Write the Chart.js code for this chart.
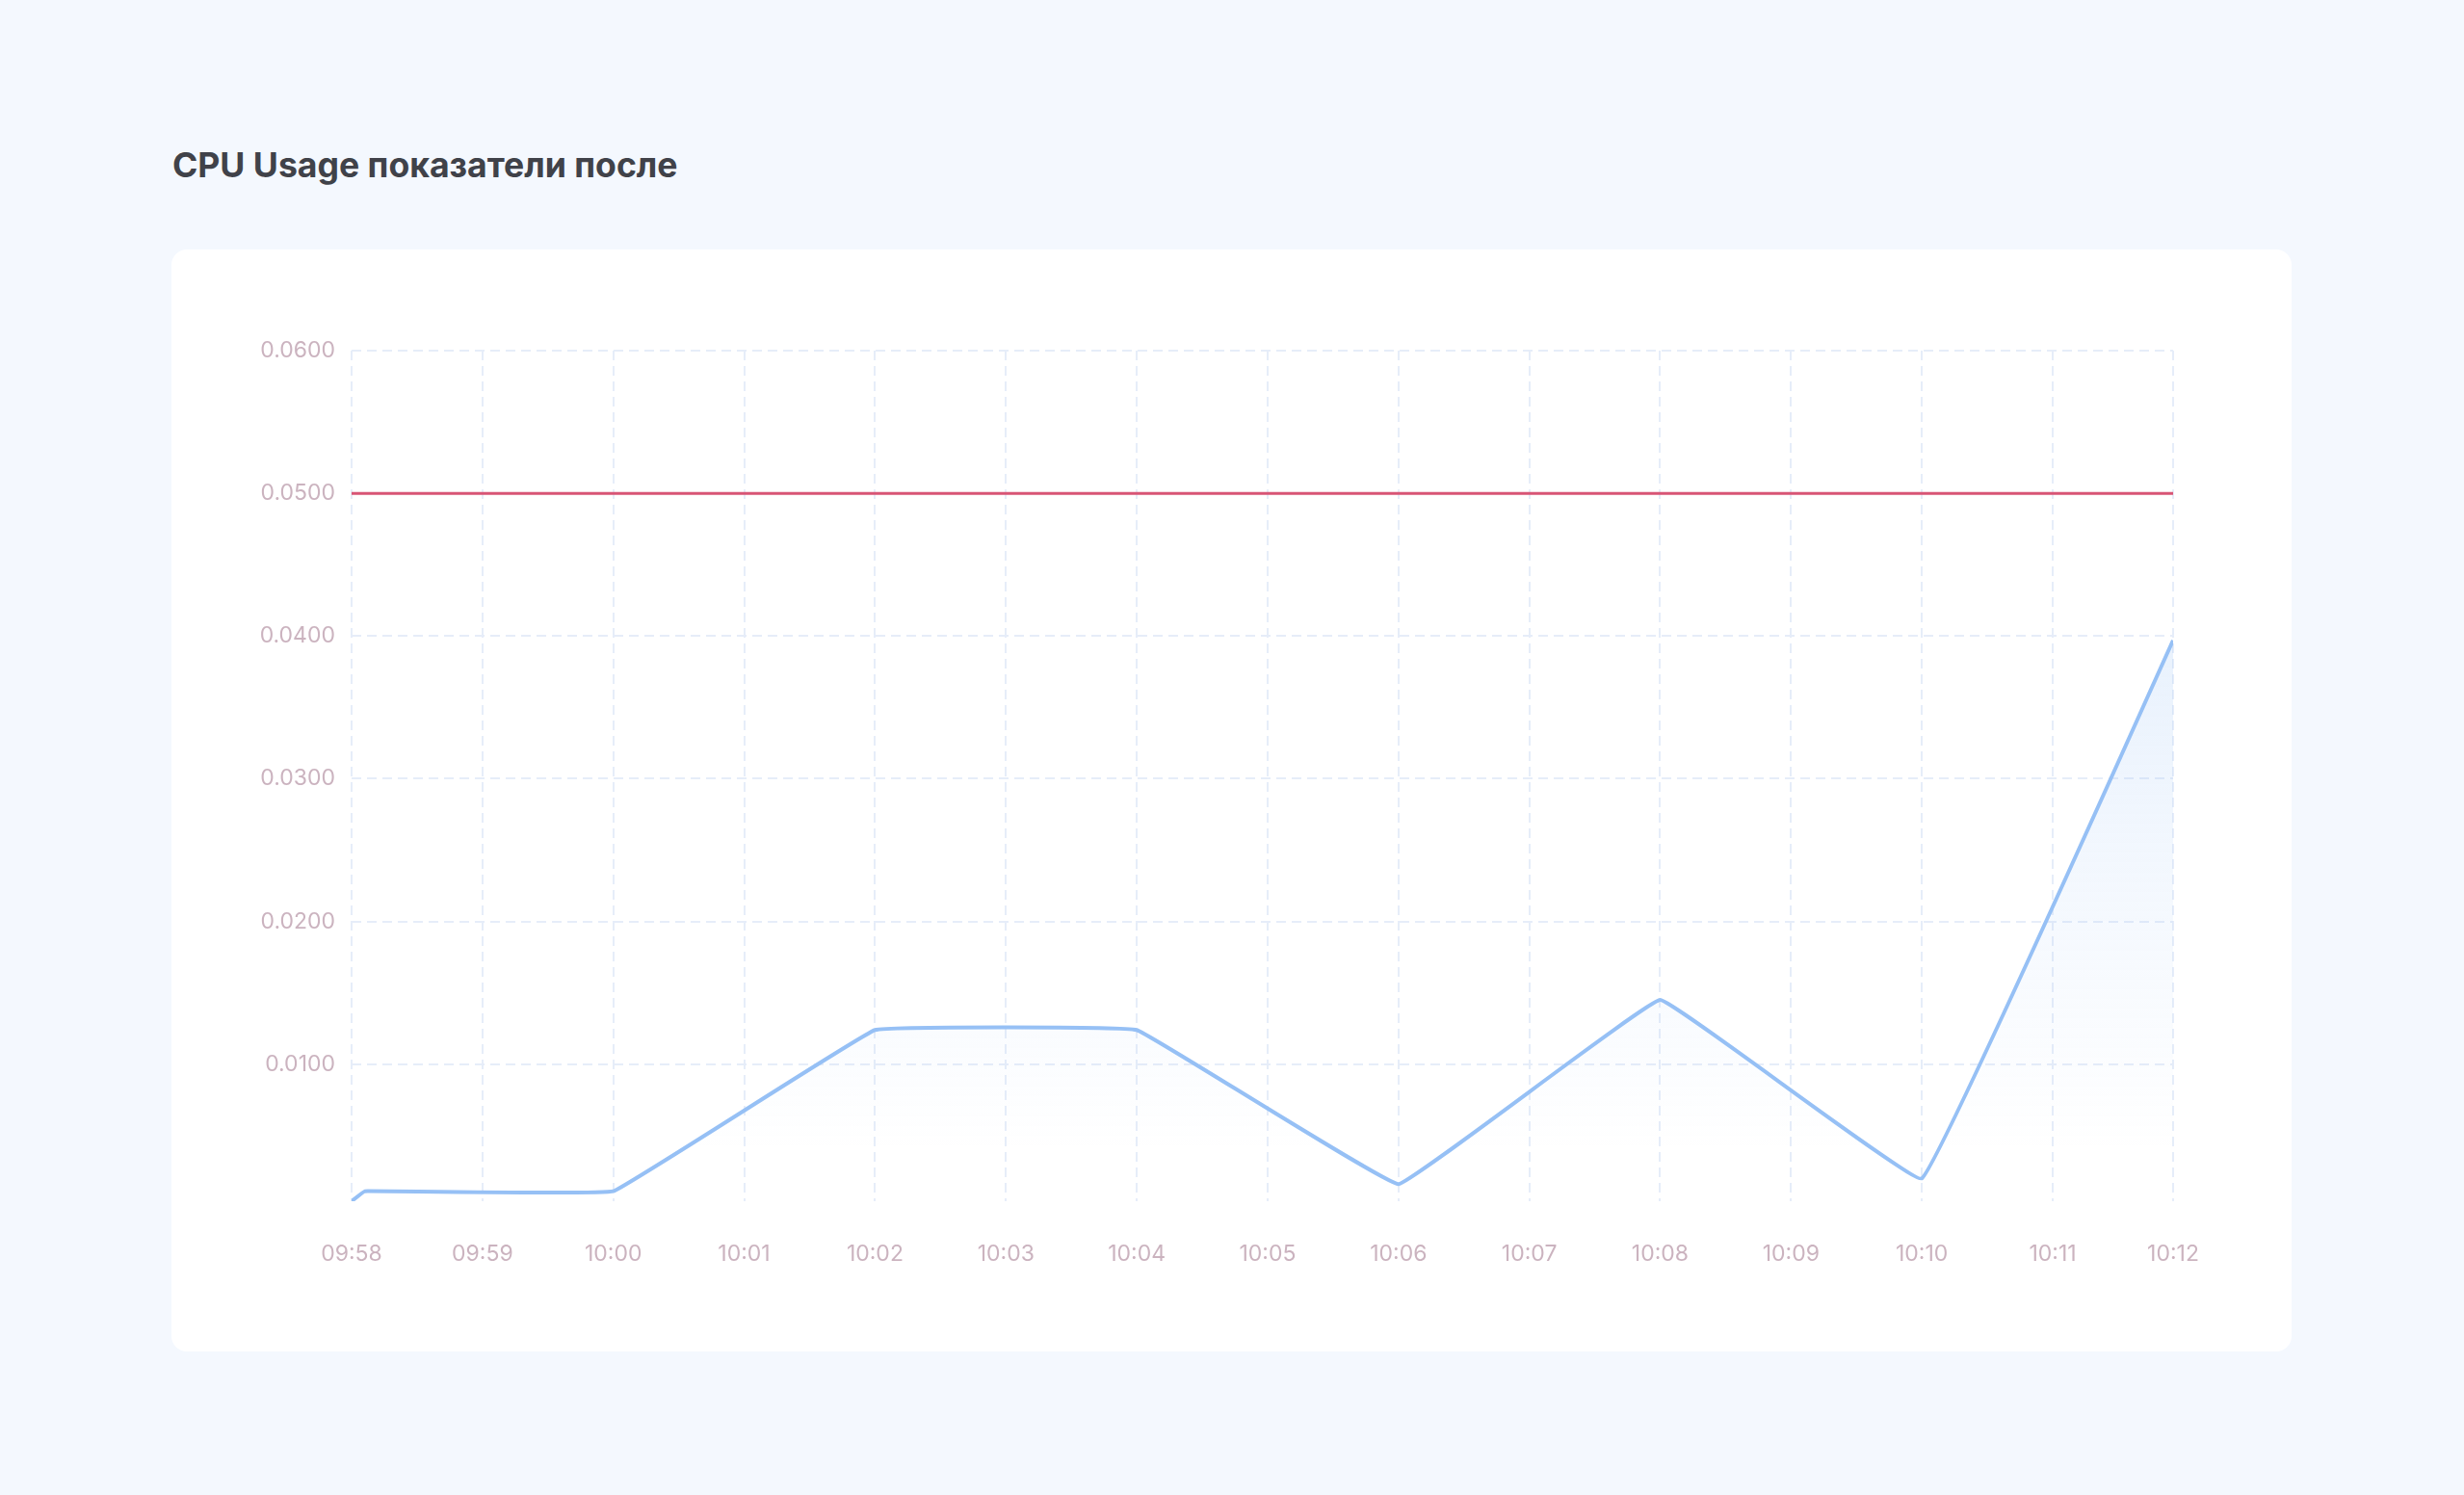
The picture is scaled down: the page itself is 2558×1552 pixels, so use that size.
<!DOCTYPE html>
<html>
<head>
<meta charset="utf-8">
<title>CPU Usage</title>
<script src="https://cdn.jsdelivr.net/npm/chart.js@4.4.1/dist/chart.umd.min.js"></script>
<style>
  html, body { margin: 0; padding: 0; }
  body {
    width: 2558px;
    height: 1552px;
    background: #f4f8fe;
    font-family: Inter, "Noto Sans", sans-serif;
    position: relative;
    overflow: hidden;
  }
  h1 {
    position: absolute;
    left: 179px;
    top: 150px;
    margin: 0;
    font-size: 35.6px;
    font-weight: 700;
    color: #404249;
    letter-spacing: 0;
  }
  .card {
    position: absolute;
    left: 178px;
    top: 259px;
    width: 2201px;
    height: 1144px;
    background: #ffffff;
    border-radius: 16px;
  }
  .card canvas { display: block; }
</style>
</head>
<body>
<h1>CPU Usage показатели после</h1>
<div class="card"><canvas id="cpuChart" width="2201" height="1144"></canvas></div>
<script>
// minutes after 09:58
const cpuMinutes = [0, 0.1, 2, 4, 6, 8, 10, 12, 13.92];
const cpuValues = [0.0004, 0.0011, 0.0011, 0.0124, 0.0124, 0.0016, 0.0145, 0.0020, 0.0397];

const limitMinutes = [0, 13.92];
const limitValues = [0.05, 0.05];

const xTickMinutes = [0, 1, 2, 3, 4, 5, 6, 7, 8, 9, 10, 11, 12, 13, 13.92];
const xTickLabels = ['09:58', '09:59', '10:00', '10:01', '10:02', '10:03', '10:04', '10:05',
    '10:06', '10:07', '10:08', '10:09', '10:10', '10:11', '10:12'];
const yTickValues = [0.01, 0.02, 0.03, 0.04, 0.05, 0.06];

function toPoints(xs, ys) {
    return xs.map((x, i) => ({ x: x, y: ys[i] }));
}

function fillGradient(context) {
    const chart = context.chart;
    const area = chart.chartArea;
    if (!area) return 'rgba(147,190,245,0.15)';
    const g = chart.ctx.createLinearGradient(0, area.top, 0, area.top + area.height * 0.94);
    g.addColorStop(0, 'rgba(147,190,245,0.32)');
    g.addColorStop(1, 'rgba(147,190,245,0)');
    return g;
}

const gridStyle = {
    color: '#e6edf9',
    lineWidth: 2,
    drawTicks: false
};
const tickFont = { family: 'Inter', size: 23 };
const tickColor = '#cbb3bf';

function initChart() {
    const ctx = document.getElementById('cpuChart');
    if (!ctx) return;

    new Chart(ctx, {
        type: 'line',
        data: {
            datasets: [{
                label: 'Limit',
                data: toPoints(limitMinutes, limitValues),
                borderColor: '#d85575',
                borderWidth: 3,
                pointRadius: 0,
                fill: false,
                tension: 0
            },
            {
                label: 'CPU Usage',
                data: toPoints(cpuMinutes, cpuValues),
                borderColor: '#96c0f5',
                borderWidth: 4,
                pointRadius: 0,
                tension: 0.05,
                fill: 'start',
                backgroundColor: fillGradient
            }]
        },
        options: {
            responsive: false,
            animation: false,
            layout: {
                padding: { left: 0, top: 105, right: 123, bottom: 0 }
            },
            plugins: {
                legend: { display: false },
                tooltip: { enabled: false }
            },
            scales: {
                x: {
                    type: 'linear',
                    min: cpuMinutes[0],
                    max: cpuMinutes[cpuMinutes.length - 1],
                    border: { display: false, dash: [10, 6] },
                    grid: gridStyle,
                    afterBuildTicks: (scale) => {
                        scale.ticks = xTickMinutes.map(v => ({ value: v }));
                    },
                    afterFit: (scale) => { scale.height = 156; },
                    ticks: {
                        autoSkip: false,
                        maxRotation: 0,
                        padding: 41,
                        color: tickColor,
                        font: tickFont,
                        callback: (value, index) => xTickLabels[index]
                    }
                },
                y: {
                    min: Math.min(...cpuValues),
                    max: yTickValues[yTickValues.length - 1],
                    border: { display: false, dash: [10, 6] },
                    grid: gridStyle,
                    afterBuildTicks: (scale) => {
                        scale.ticks = yTickValues.map(v => ({ value: v }));
                    },
                    afterFit: (scale) => { scale.width = 187; },
                    ticks: {
                        padding: 17,
                        color: tickColor,
                        font: tickFont,
                        callback: (value) => value.toFixed(4)
                    }
                }
            }
        }
    });
}

initChart();
</script>
</body>
</html>
